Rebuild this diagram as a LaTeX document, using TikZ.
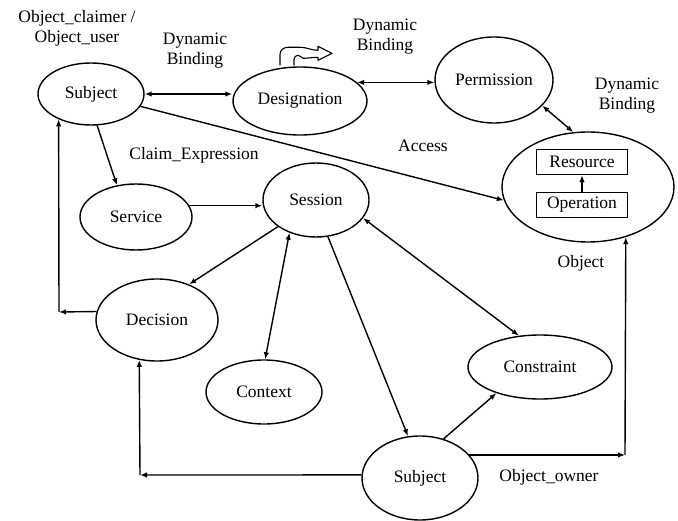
\documentclass[tikz,border=0pt]{standalone}
\usepackage{fontspec}
\setmainfont{Liberation Serif}
\usetikzlibrary{shapes.geometric,arrows.meta}
\begin{document}
\begin{tikzpicture}[x=1pt, y=-1pt, line width=1.4pt, font=\fontsize{17.5}{20}\selectfont,
  oval/.style={draw, ellipse, inner sep=0pt},
  box/.style={draw, rectangle, inner sep=0pt, minimum width=91pt, minimum height=25pt},
  lbl/.style={align=center, inner sep=0pt},
  >={Latex[length=7pt,width=5.5pt]}] %px
\useasboundingbox (0,0) rectangle (678,521);
\node[oval, minimum width=106pt, minimum height=62pt] (E_subj1) at (91,94) {Subject};
\node[oval, minimum width=134pt, minimum height=68pt] (E_desig) at (300,101) {Designation};
\node[oval, minimum width=118pt, minimum height=86pt] (E_perm) at (494,80) {Permission};
\node[oval, minimum width=172pt, minimum height=110pt] (E_obj) at (588,187) {};
\node[box] (B_res) at (582,162) {Resource};
\node[box] (B_oper) at (582,205) {Operation};
\node[oval, minimum width=112pt, minimum height=66pt] (E_serv) at (136,217) {Service};
\node[oval, minimum width=106pt, minimum height=74pt] (E_sess) at (316,200) {Session};
\node[oval, minimum width=122pt, minimum height=82pt] (E_decis) at (157,320) {Decision};
\node[oval, minimum width=116pt, minimum height=64pt] (E_ctx) at (264,392) {Context};
\node[oval, minimum width=144pt, minimum height=64pt] (E_cons) at (540,367) {Constraint};
\node[oval, minimum width=116pt, minimum height=84pt] (E_subj2) at (420,478) {Subject};
\coordinate (C_left) at (59,312);
\coordinate (C_bl) at (140,475);
\coordinate (C_br) at (625,455);
% labels
\node[lbl] (L_claimer) at (77,28) {Object\_claimer /\\Object\_user};
\node[lbl] (L_dyn1) at (195,51) {Dynamic\\Binding};
\node[lbl] (L_dyn2) at (385,37) {Dynamic\\Binding};
\node[lbl] (L_dyn3) at (627,96) {Dynamic\\Binding};
\node[lbl] (L_claim) at (194,155) {Claim\_Expression};
\node[lbl] (L_access) at (423,146) {Access};
\node[lbl] (L_obj) at (581,263) {Object};
\node[lbl] (L_owner) at (549,477) {Object\_owner};
% connectors
\draw[<->] (E_subj1.east) -- (E_subj1.east -| E_desig.west);
\draw[<->] (E_desig.18) -- (E_desig.18 -| E_perm.west);
\draw[<->] (E_perm.-28) -- (E_obj.105);
\draw[->] (E_subj1.-14) -- (E_obj.189);
\draw[->] (E_subj1.-79) -- (E_serv.121);
\draw[->] (E_serv.12) -- (E_serv.12 -| E_sess.west);
\draw[->] (E_sess.-145) -- (E_decis.48);
\draw[<->] (E_sess.-129) -- (E_ctx.88);
\draw[->] (E_sess.-72) -- (E_subj2.106);
\draw[<->] (E_sess.-21) -- (E_cons.124);
\draw[->] (E_subj2.59) -- (E_cons.211);
\draw[->] (B_oper.north) -- (B_res.south);
\draw[->] (E_decis.172) -- (C_left);
\draw[->] (C_left) -- (E_subj1.218);
\draw[->] (E_subj2.177) -- (C_bl);
\draw[->] (C_bl) -- (E_decis.246);
\draw[->] (E_subj2.25) -- (E_subj2.25 -| C_br);
\draw[->] (C_br) -- (E_obj.-53.5);
% self loop on Designation
\draw[shift={(E_desig.north)}, line width=1.1pt, line join=round]
  (-20,-1) -- (-20,-12) to[out=90,in=180] (-12,-19) -- (0,-19)
  to[out=0,in=180] (18,-16) -- (18,-20) -- (32,-13) -- (18,-6) -- (18,-9)
  to[out=180,in=0] (3,-8) to[out=160,in=0] (-2,-11) to[out=180,in=90] (-6,-7) -- (-6,-1);
\end{tikzpicture}
\end{document}
